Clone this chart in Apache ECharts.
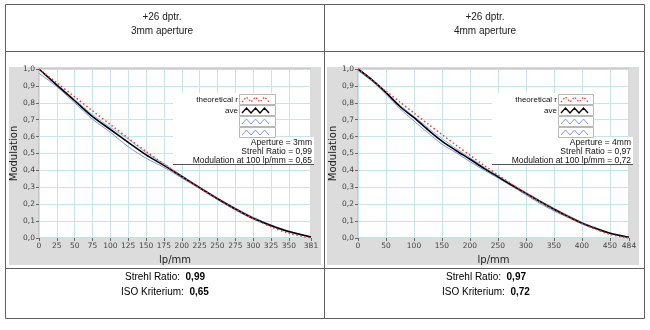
<!DOCTYPE html>
<html><head><meta charset="utf-8">
<script src="https://cdn.jsdelivr.net/npm/echarts@6/dist/echarts.min.js"></script>
<style>html,body{margin:0;padding:0;background:#fff}#c{width:650px;height:330px}</style>
</head><body><div id="c"></div>
<script>
// ---- texts ----
const headerLeft = ['+26 dptr.', '3mm aperture'];
const headerRight = ['+26 dptr.', '4mm aperture'];
const footerLeft = { strehl: '0,99', iso: '0,65' };
const footerRight = { strehl: '0,97', iso: '0,72' };
const legendNames = ['theoretical r', 'ave', '', ''];
const infoLeft = ['Aperture = 3mm', 'Strehl Ratio = 0,99', 'Modulation at 100 lp/mm = 0,65'];
const infoRight = ['Aperture = 4mm', 'Strehl Ratio = 0,97', 'Modulation at 100 lp/mm = 0,72'];

// ---- left chart (3mm) ----
const xLeft = [0, 25, 50, 75, 100, 125, 150, 175, 200, 225, 250, 275, 300, 325, 350, 381];
const theoLeft = [1.0, 0.918, 0.835, 0.752, 0.671, 0.591, 0.512, 0.437, 0.364, 0.295, 0.230, 0.170, 0.116, 0.066, 0.028, 0.0];
const avgLeft = [1.0, 0.905, 0.812, 0.718, 0.642, 0.566, 0.492, 0.430, 0.364, 0.298, 0.232, 0.172, 0.117, 0.074, 0.038, 0.006];
const lowLeft = [0.975, 0.895, 0.800, 0.703, 0.625, 0.540, 0.472, 0.418, 0.355, 0.292, 0.228, 0.165, 0.112, 0.070, 0.034, 0.004];
const highLeft = [1.0, 0.910, 0.820, 0.730, 0.655, 0.585, 0.505, 0.440, 0.370, 0.302, 0.238, 0.178, 0.123, 0.078, 0.040, 0.008];
const xTicksLeft = [0, 25, 50, 75, 100, 125, 150, 175, 200, 225, 250, 275, 300, 325, 350, 381];

// ---- right chart (4mm) ----
const xRight = [0, 25, 50, 75, 100, 125, 150, 175, 200, 225, 250, 275, 300, 325, 350, 375, 400, 425, 450, 475, 484];
const theoRight = [1.0, 0.934, 0.869, 0.804, 0.739, 0.675, 0.612, 0.550, 0.490, 0.430, 0.373, 0.318, 0.265, 0.215, 0.167, 0.124, 0.085, 0.051, 0.022, 0.004, 0.0];
const avgRight = [1.0, 0.935, 0.860, 0.778, 0.712, 0.640, 0.573, 0.518, 0.466, 0.412, 0.362, 0.312, 0.264, 0.216, 0.170, 0.128, 0.088, 0.056, 0.028, 0.010, 0.004];
const lowRight = [0.99, 0.928, 0.850, 0.765, 0.692, 0.622, 0.555, 0.505, 0.452, 0.402, 0.355, 0.306, 0.255, 0.205, 0.160, 0.122, 0.083, 0.052, 0.025, 0.008, 0.002];
const highRight = [1.0, 0.940, 0.865, 0.785, 0.720, 0.652, 0.588, 0.530, 0.476, 0.420, 0.368, 0.318, 0.270, 0.222, 0.176, 0.134, 0.093, 0.060, 0.031, 0.012, 0.006];
const xTicksRight = [0, 50, 100, 150, 200, 250, 300, 350, 400, 450, 484];

const yTicks = [0, 0.1, 0.2, 0.3, 0.4, 0.5, 0.6, 0.7, 0.8, 0.9, 1.0];

const FONT = 'DejaVu Sans';
const pairs = (xs, ys) => xs.map((x, i) => [x, ys[i]]);
const comma = v => (Math.round(v * 10) / 10).toFixed(1).replace('.', ',');

function xAxisDef(idx, max, interval, ticks) {
  return {
    type: 'value', gridIndex: idx, min: 0, max: max, interval: interval,
    name: 'lp/mm', nameLocation: 'middle', nameGap: 17,
    nameTextStyle: { fontFamily: FONT, fontSize: 10, color: '#222' },
    axisLine: { show: false },
    axisTick: { show: true, length: 3, lineStyle: { color: '#666' }, customValues: ticks },
    axisLabel: { customValues: ticks, fontFamily: FONT, fontSize: 7.5, color: '#444', margin: 4,
      formatter: v => String(Math.round(v)) },
    splitLine: { show: true, lineStyle: { color: '#c8e4e8', width: 1 } }
  };
}
function yAxisDef(idx) {
  return {
    type: 'value', gridIndex: idx, min: 0, max: 1, interval: 0.1,
    name: 'Modulation', nameLocation: 'middle', nameGap: 12, nameRotate: 90,
    nameTextStyle: { fontFamily: FONT, fontSize: 10, color: '#222' },
    axisLine: { show: false },
    axisTick: { show: true, length: 3, lineStyle: { color: '#666' } },
    axisLabel: { fontFamily: FONT, fontSize: 7.5, color: '#444', margin: 4, formatter: comma },
    splitLine: { show: true, lineStyle: { color: '#c8e4e8', width: 1 } }
  };
}
function seriesFor(idx, xs, low, high, avg, theo) {
  const base = { type: 'line', xAxisIndex: idx, yAxisIndex: idx, showSymbol: false, smooth: 0.3, animation: false };
  return [
    Object.assign({}, base, { name: 'b1', data: pairs(xs, low), lineStyle: { color: '#8393e0', width: 1 } }),
    Object.assign({}, base, { name: 'b2', data: pairs(xs, high), lineStyle: { color: '#92b3ea', width: 1 } }),
    Object.assign({}, base, { name: 'ave', data: pairs(xs, avg), lineStyle: { color: '#000', width: 1.6 } }),
    Object.assign({}, base, { name: 'theo', data: pairs(xs, theo), lineStyle: { color: '#e5412b', width: 1.5, type: [1.5, 2.5] } })
  ];
}

function zig(x0, x1, cy, amp) {
  const pts = []; let up = true;
  for (let x = x0; x <= x1 + 0.01; x += 4.5) { pts.push([x, cy + (up ? amp : -amp)]); up = !up; }
  return pts;
}
function legendBlock(textRight, swX, swW, boxLeft, infoRightX, info) {
  const g = [];
  g.push({ type: 'rect', z: 20, shape: { x: boxLeft, y: 93, width: swX + swW - boxLeft + 1, height: 44 }, style: { fill: '#fff' } });
  g.push({ type: 'rect', z: 20, shape: { x: boxLeft, y: 137, width: infoRightX + 2 - boxLeft, height: 27 }, style: { fill: '#fff' } });
  g.push({ type: 'line', z: 21, shape: { x1: boxLeft, y1: 164.5, x2: infoRightX + 2, y2: 164.5 }, style: { stroke: '#555', lineWidth: 1 } });
  const rows = [94, 105, 116, 127];
  const styles = [
    { stroke: '#e5412b', lineWidth: 1.3, lineDash: [1.5, 2] },
    { stroke: '#000', lineWidth: 1.3 },
    { stroke: '#8393e0', lineWidth: 1 },
    { stroke: '#8393e0', lineWidth: 1 }
  ];
  rows.forEach((top, i) => {
    g.push({ type: 'rect', z: 21, shape: { x: swX + 0.5, y: top + 0.5, width: swW, height: 10 }, style: { fill: '#fff', stroke: '#b8b8b8', lineWidth: 1 } });
    g.push({ type: 'polyline', z: 22, shape: { points: zig(swX + 3, swX + swW - 3, top + 5.5, 2.5) }, style: Object.assign({ fill: null }, styles[i]) });
    if (legendNames[i]) {
      g.push({ type: 'text', z: 22, style: { text: legendNames[i], x: textRight, y: top + 5.5, textAlign: 'right', textVerticalAlign: 'middle', font: '8px "Liberation Sans"', fill: '#111' } });
    }
  });
  info.forEach((t, i) => {
    g.push({ type: 'text', z: 22, style: { text: t, x: infoRightX, y: 143 + i * 9, textAlign: 'right', textVerticalAlign: 'middle', font: '8.5px "Liberation Sans"', fill: '#111' } });
  });
  return g;
}
function footer(cx, f) {
  const rich = { a: { fontFamily: 'Liberation Sans', fontSize: 10, color: '#222' }, b: { fontFamily: 'Liberation Sans', fontSize: 10, fontWeight: 'bold', color: '#111' } };
  return [
    { type: 'text', style: { text: '{a|Strehl Ratio:  }{b|' + f.strehl + '}', x: cx, y: 277, textAlign: 'center', textVerticalAlign: 'middle', rich: rich } },
    { type: 'text', style: { text: '{a|ISO Kriterium:  }{b|' + f.iso + '}', x: cx, y: 292, textAlign: 'center', textVerticalAlign: 'middle', rich: rich } }
  ];
}
function header(cx, lines) {
  return lines.map((t, i) => ({ type: 'text', style: { text: t, x: cx, y: 17 + i * 14, textAlign: 'center', textVerticalAlign: 'middle', font: '10px "Liberation Sans"', fill: '#222' } }));
}

const graphics = [
  { type: 'rect', z: -10, shape: { x: 9, y: 67, width: 312, height: 198 }, style: { fill: '#dcdcdc' } },
  { type: 'rect', z: -10, shape: { x: 327, y: 67, width: 312, height: 198 }, style: { fill: '#dcdcdc' } },
  { type: 'rect', z: 30, shape: { x: 5.5, y: 4.5, width: 639, height: 314 }, style: { fill: null, stroke: '#606060', lineWidth: 1 } },
  { type: 'line', z: 30, shape: { x1: 5, y1: 51.5, x2: 645, y2: 51.5 }, style: { stroke: '#606060', lineWidth: 1 } },
  { type: 'line', z: 30, shape: { x1: 5, y1: 268.5, x2: 645, y2: 268.5 }, style: { stroke: '#606060', lineWidth: 1 } },
  { type: 'line', z: 30, shape: { x1: 324.5, y1: 4, x2: 324.5, y2: 319 }, style: { stroke: '#606060', lineWidth: 1 } }
]
  .concat(header(162, headerLeft), header(485, headerRight))
  .concat(footer(165, footerLeft), footer(486, footerRight))
  .concat(legendBlock(238, 239, 36, 173, 312, infoLeft))
  .concat(legendBlock(557, 558, 35, 492, 631, infoRight));

const option = {
  animation: false,
  textStyle: { fontFamily: FONT },
  grid: [
    { left: 39, top: 69, width: 272, height: 169, show: true, backgroundColor: '#fff', borderColor: '#b5b5b5', borderWidth: 1 },
    { left: 358, top: 69, width: 271, height: 169, show: true, backgroundColor: '#fff', borderColor: '#b5b5b5', borderWidth: 1 }
  ],
  xAxis: [xAxisDef(0, 381, 25, xTicksLeft), xAxisDef(1, 484, 50, xTicksRight)],
  yAxis: [yAxisDef(0), yAxisDef(1)],
  series: seriesFor(0, xLeft, lowLeft, highLeft, avgLeft, theoLeft)
    .concat(seriesFor(1, xRight, lowRight, highRight, avgRight, theoRight)),
  graphic: graphics
};
const chart = echarts.init(document.getElementById('c'), null, { renderer: 'canvas' });
chart.setOption(option);
</script></body></html>
